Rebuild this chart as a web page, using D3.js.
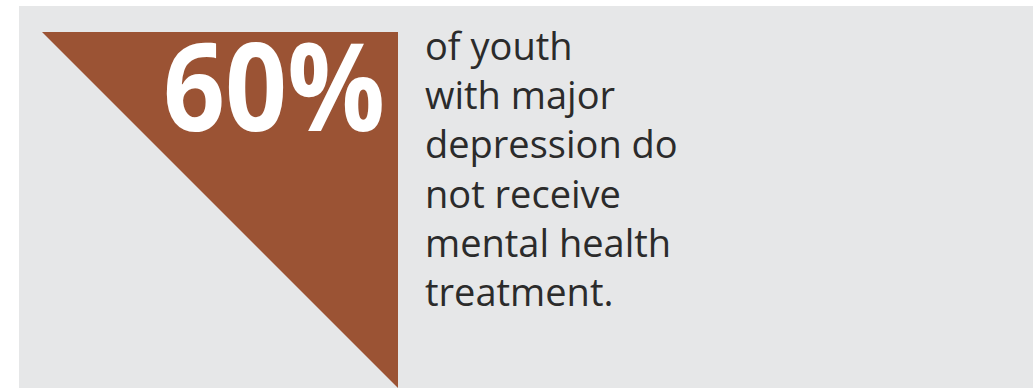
<!DOCTYPE html>
<html><head><meta charset="utf-8">
<script src="https://cdn.jsdelivr.net/npm/d3@7"></script>
<style>html,body{margin:0;padding:0;background:#fff;}svg{display:block;}</style>
</head><body>
<script>
const statValue = [60];
const statLabel = ["60%"];
const descriptionLines = ["of youth", "with major", "depression do", "not receive", "mental health", "treatment."];

const W = 1035, H = 388;
const svg = d3.select("body").append("svg").attr("width", W).attr("height", H);

// panel
svg.append("rect").attr("x", 19).attr("y", 6).attr("width", 1014).attr("height", H - 6).attr("fill", "#e6e7e8");

// triangle via scales
const x = d3.scaleLinear().domain([0, 1]).range([42, 398]);
const y = d3.scaleLinear().domain([0, 1]).range([32, 388]);
const tri = [[0, 0], [1, 0], [1, 1]];
svg.append("path")
  .attr("d", d3.line().x(d => x(d[0])).y(d => y(d[1]))(tri) + "Z")
  .attr("fill", "#9b5334");

svg.append("text").text(statLabel[0])
  .attr("x", 163).attr("y", 131)
  .attr("font-family", "Open Sans, sans-serif").attr("font-weight", 700)
  .attr("font-size", 122).attr("fill", "#fff")
  .attr("textLength", 222).attr("lengthAdjust", "spacingAndGlyphs");

const ly = d3.scaleLinear().domain([0, descriptionLines.length - 1]).range([60, 306]);
svg.selectAll("text.desc").data(descriptionLines).join("text").attr("class", "desc")
  .attr("x", 425).attr("y", (d, i) => ly(i))
  .attr("font-family", "Open Sans, sans-serif").attr("font-size", 38)
  .attr("fill", "#2b2b2b").text(d => d);
</script>
</body></html>
